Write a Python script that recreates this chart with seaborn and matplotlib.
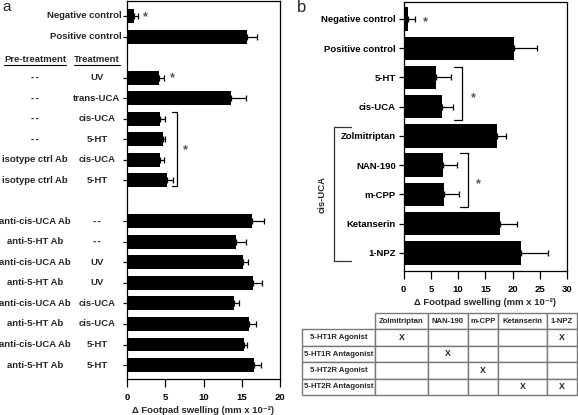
import numpy as np
import pandas as pd
import matplotlib
matplotlib.use("Agg")
import matplotlib.pyplot as plt
import matplotlib.transforms as mtransforms
import seaborn as sns

# ---------------- data ----------------
a_pre = ["", "", "--", "--", "--", "--", "isotype ctrl Ab", "isotype ctrl Ab",
         "anti-cis-UCA Ab", "anti-5-HT Ab", "anti-cis-UCA Ab", "anti-5-HT Ab",
         "anti-cis-UCA Ab", "anti-5-HT Ab", "anti-cis-UCA Ab", "anti-5-HT Ab"]
a_treat = ["Negative control", "Positive control", "UV", "trans-UCA", "cis-UCA", "5-HT",
           "cis-UCA", "5-HT", "--", "--", "UV", "UV", "cis-UCA", "cis-UCA", "5-HT", "5-HT"]
a_group = [0, 0, 1, 1, 1, 1, 1, 1, 2, 2, 2, 2, 2, 2, 2, 2]
a_mean = [0.9, 15.7, 4.2, 13.6, 4.3, 4.7, 4.3, 5.2, 16.4, 14.3, 15.2, 16.5, 14.0, 16.0, 15.3, 16.6]
a_sem = [0.5, 1.3, 0.6, 1.9, 0.7, 0.3, 0.6, 0.8, 1.5, 1.2, 0.6, 1.2, 0.7, 0.8, 0.4, 0.9]
a_xticks = [0, 5, 10, 15, 20]

b_labels = ["Negative control", "Positive control", "5-HT", "cis-UCA", "Zolmitriptan",
            "NAN-190", "m-CPP", "Ketanserin", "1-NPZ"]
b_mean = [0.85, 20.2, 6.0, 7.1, 17.2, 7.2, 7.4, 17.7, 21.5]
b_sem = [1.25, 4.3, 2.7, 1.9, 1.6, 2.5, 2.7, 3.2, 5.0]
b_xticks = [0, 5, 10, 15, 20, 25, 30]

xlabel = "Δ Footpad swelling (mm x 10⁻²)"

receptors = ["5-HT1R Agonist", "5-HT1R Antagonist", "5-HT2R Agonist", "5-HT2R Antagonist"]
drugs = ["Zolmitriptan", "NAN-190", "m-CPP", "Ketanserin", "1-NPZ"]
marks = [[1, 0, 0, 0, 1],
         [0, 1, 0, 0, 0],
         [0, 0, 1, 0, 0],
         [0, 0, 0, 1, 1]]

# ---------------- style ----------------
sns.set_style("ticks")
plt.rcParams["font.family"] = ["Liberation Sans", "DejaVu Sans"]
plt.rcParams["font.weight"] = "bold"
plt.rcParams["axes.linewidth"] = 0.9
plt.rcParams["xtick.major.width"] = 0.9
plt.rcParams["ytick.major.width"] = 0.9
plt.rcParams["xtick.color"] = "black"
plt.rcParams["ytick.color"] = "black"
plt.rcParams["axes.edgecolor"] = "black"

FS = 6.8
W, H = 578, 415
fig = plt.figure(figsize=(W / 100, H / 100), dpi=100)


def fx(px):
    return px / W


def fy(py):
    return 1 - py / H


def draw_label(ax, x, y, s, trans):
    # "--" drawn with a thin gap so the two hyphens stay visibly separate
    if s == "--":
        ax.text(x, y, "-\u2009-", transform=trans, ha="center", va="center",
                fontsize=5.5, fontweight="bold", family=["DejaVu Sans"])
    else:
        ax.text(x, y, s, transform=trans, ha="center", va="center",
                fontsize=FS, fontweight="bold")


# ---------------- panel a ----------------
axA = fig.add_axes([fx(127), fy(379), fx(280 - 127), (379 - 1) / H])
a_pos = [i + g for i, g in enumerate(a_group)]
dfa = pd.DataFrame({"pos": a_pos, "value": a_mean})
sns.barplot(data=dfa, x="value", y="pos", orient="h", native_scale=True,
            color="black", width=0.68, errorbar=None, ax=axA, saturation=1)
for p in axA.patches:
    p.set_edgecolor("none")
axA.errorbar(a_mean, a_pos, xerr=[np.zeros(len(a_sem)), a_sem], fmt="none",
             ecolor="black", elinewidth=0.9, capsize=2.5, capthick=0.9)
axA.set_xlim(0, 20)
axA.set_ylim(17.68, -0.73)
axA.set_xticks(a_xticks)
axA.set_xticklabels([str(t) for t in a_xticks], fontsize=FS, fontweight="bold")
axA.set_yticks(a_pos)
axA.set_yticklabels(["" for _ in a_pos])
axA.tick_params(axis="y", length=3, pad=2)
axA.tick_params(axis="x", length=6, pad=4)
axA.set_xlabel(xlabel, fontsize=FS, fontweight="bold", labelpad=3)
axA.set_ylabel("")
for s in axA.spines.values():
    s.set_visible(True)

trA = mtransforms.blended_transform_factory(axA.transAxes, axA.transData)
for pre, tr, pos, g in zip(a_pre, a_treat, a_pos, a_group):
    if g == 0:
        axA.text(-0.035, pos, tr, transform=trA, ha="right", va="center",
                 fontsize=FS, fontweight="bold")
    else:
        draw_label(axA, -0.601, pos, pre, trA)
        draw_label(axA, -0.196, pos, tr, trA)
h1 = axA.text(-0.601, 2.1, "Pre-treatment", transform=trA, ha="center", va="center",
              fontsize=FS, fontweight="bold")
h2 = axA.text(-0.196, 2.1, "Treatment", transform=trA, ha="center", va="center",
              fontsize=FS, fontweight="bold")

# significance marks panel a
axA.text(2.35, 0.05, "*", ha="center", va="center", fontsize=9, color="#555555")
axA.text(5.9, 3.05, "*", ha="center", va="center", fontsize=9, color="#555555")
axA.plot([5.9, 6.5, 6.5, 5.9], [4.7, 4.7, 8.3, 8.3], color="black", lw=0.9, clip_on=False)
axA.text(7.6, 6.55, "*", ha="center", va="center", fontsize=9, color="#555555")

fig.text(fx(2), fy(7), "a", fontsize=11, fontweight="normal", ha="left", va="center")

# ---------------- panel b ----------------
axB = fig.add_axes([fx(403.7), fy(271), fx(567 - 403.7), (271 - 2) / H])
dfb = pd.DataFrame({"label": b_labels, "value": b_mean})
sns.barplot(data=dfb, x="value", y="label", order=b_labels, orient="h",
            color="black", width=0.8, errorbar=None, ax=axB, saturation=1)
for p in axB.patches:
    p.set_edgecolor("none")
b_pos = np.arange(len(b_labels))
axB.errorbar(b_mean, b_pos, xerr=[np.zeros(len(b_sem)), b_sem], fmt="none",
             ecolor="black", elinewidth=0.9, capsize=2.5, capthick=0.9)
axB.set_xlim(0, 30)
axB.set_ylim(8.62, -0.58)
axB.set_xticks(b_xticks)
axB.set_xticklabels([str(t) for t in b_xticks], fontsize=FS, fontweight="bold")
axB.set_yticks(b_pos)
axB.set_yticklabels(b_labels, fontsize=FS, fontweight="bold")
axB.tick_params(axis="y", length=3.5, pad=2)
axB.tick_params(axis="x", length=6, pad=4)
axB.set_xlabel(xlabel, fontsize=FS, fontweight="bold", labelpad=3)
axB.set_ylabel("")
for s in axB.spines.values():
    s.set_visible(True)

axB.text(3.9, 0.1, "*", ha="center", va="center", fontsize=9, color="#555555")
axB.plot([9.3, 10.7, 10.7, 9.3], [1.64, 1.64, 3.46, 3.46], color="black", lw=0.9, clip_on=False)
axB.text(12.8, 2.7, "*", ha="center", va="center", fontsize=9, color="#555555")
axB.plot([10.4, 11.8, 11.8, 10.4], [4.59, 4.59, 6.44, 6.44], color="black", lw=0.9, clip_on=False)
axB.text(13.7, 5.65, "*", ha="center", va="center", fontsize=9, color="#555555")

trB = mtransforms.blended_transform_factory(axB.transAxes, axB.transData)
axB.plot([-0.323, -0.428, -0.428, -0.323], [3.7, 3.7, 8.29, 8.29], color="#333333",
         lw=0.9, transform=trB, clip_on=False)
axB.text(-0.50, 6.0, "cis-UCA", transform=trB, rotation=90, ha="center", va="center",
         fontsize=FS, fontweight="bold")

fig.text(fx(297), fy(8), "b", fontsize=12, fontweight="normal", ha="left", va="center")

# ---------------- table ----------------
axT = fig.add_axes([fx(302), fy(395), fx(577 - 302), (395 - 313) / H])
axT.axis("off")
cell_text = [[r] + ["X" if m else "" for m in row] for r, row in zip(receptors, marks)]
col_w = np.array([73, 53, 40, 30, 49, 30], dtype=float)
col_w = col_w / col_w.sum()
tbl = axT.table(cellText=cell_text, colLabels=[""] + drugs, colWidths=list(col_w),
                cellLoc="center", bbox=[0, 0, 1, 1])
tbl.auto_set_font_size(False)
for (r, c), cell in tbl.get_celld().items():
    cell.set_edgecolor("#7a7a7a")
    cell.set_linewidth(1.0)
    txt = cell.get_text()
    txt.set_fontsize(6.3 if (r > 0 and c > 0) else 5.6)
    txt.set_fontweight("bold")
    cell.PAD = 0.02
    if r == 0 and c == 0:
        cell.visible_edges = ""

# underline headers
fig.canvas.draw()
rend = fig.canvas.get_renderer()
inv = fig.transFigure.inverted()
for t in (h1, h2):
    bb = t.get_window_extent(rend)
    (x0, y0), (x1, y1) = inv.transform([[bb.x0, bb.y0], [bb.x1, bb.y0]])
    fig.add_artist(plt.Line2D([x0, x1], [y0 - 1.5 / H, y0 - 1.5 / H],
                              transform=fig.transFigure, color="black", lw=0.8))

fig.savefig("out.png", dpi=100)
